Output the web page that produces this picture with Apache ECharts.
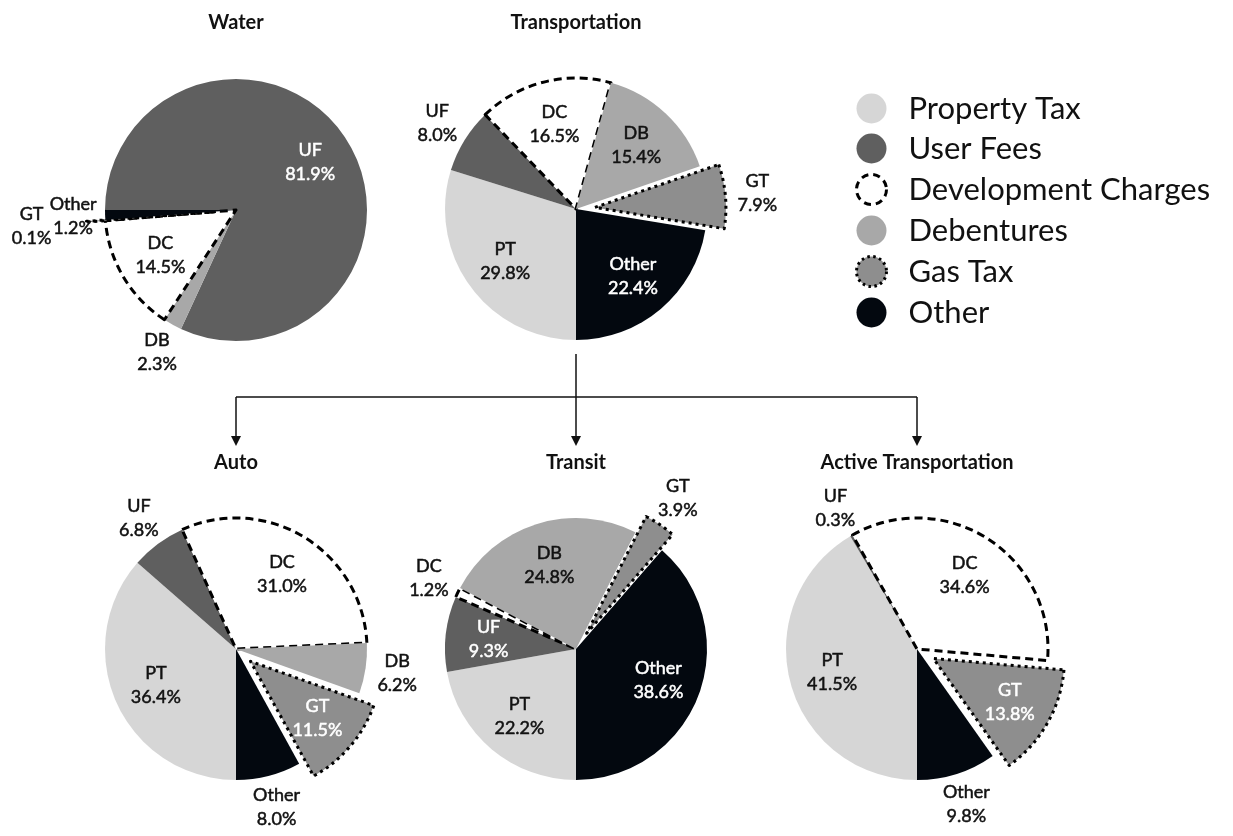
<!DOCTYPE html>
<html>
<head>
<meta charset="utf-8">
<title>Funding sources</title>
<script src="https://cdn.jsdelivr.net/npm/echarts@6/dist/echarts.min.js"></script>
<style>
  html, body { margin: 0; padding: 0; background: #fff; }
  #chart { width: 1233px; height: 836px; }
</style>
</head>
<body>
<div id="chart"></div>
<script>
// funding sources, legend order
const sourceNames = ['Property Tax', 'User Fees', 'Development Charges', 'Debentures', 'Gas Tax', 'Other'];
const sourceCodes = ['PT', 'UF', 'DC', 'DB', 'GT', 'Other'];

// shares (%) per pie, listed clockwise as drawn
const waterCodes = ['UF', 'DB', 'DC', 'GT', 'Other'];
const waterValues = [81.9, 2.3, 14.5, 0.1, 1.2];

const transportationCodes = ['PT', 'UF', 'DC', 'DB', 'GT', 'Other'];
const transportationValues = [29.8, 8.0, 16.5, 15.4, 7.9, 22.4];

const autoCodes = ['PT', 'UF', 'DC', 'DB', 'GT', 'Other'];
const autoValues = [36.4, 6.8, 31.0, 6.2, 11.5, 8.0];

const transitCodes = ['PT', 'UF', 'DC', 'DB', 'GT', 'Other'];
const transitValues = [22.2, 9.3, 1.2, 24.8, 3.9, 38.6];

const activeCodes = ['PT', 'UF', 'DC', 'GT', 'Other'];
const activeValues = [41.5, 0.3, 34.6, 13.8, 9.8];

const FONT = 'Lato, "Open Sans", sans-serif';
const R = 131;          // pie radius
const EXPLODE = 19;
// invisible pies used only to place labels: 'inside' label sits at radius/2 + 3
const LABEL_RADIUS = { in: 170, out: 320, far: 366 };

// layout of each pie; labels not listed sit inside the slice
const pies = [
  { title: 'Water', codes: waterCodes, values: waterValues, center: [236, 210], startAngle: 180, rings: { DB: 'out', GT: 'far', Other: 'out' } },
  { title: 'Transportation', codes: transportationCodes, values: transportationValues, center: [576, 209], startAngle: 270, rings: { UF: 'out', GT: 'out' } },
  { title: 'Auto', codes: autoCodes, values: autoValues, center: [236, 649], startAngle: 270, rings: { UF: 'out', DB: 'out', Other: 'out' } },
  { title: 'Transit', codes: transitCodes, values: transitValues, center: [576, 649], startAngle: 270, rings: { DC: 'out', GT: 'out' } },
  { title: 'Active Transportation', codes: activeCodes, values: activeValues, center: [917, 649], startAngle: 270, rings: { UF: 'out', Other: 'out' } }
];

const sliceStyle = {
  PT: { color: '#d6d6d6', borderWidth: 0 },
  UF: { color: '#5f5f5f', borderWidth: 0 },
  DC: { color: '#ffffff', borderColor: '#000', borderWidth: 3, borderType: [8, 5] },
  DB: { color: '#a8a8a8', borderWidth: 0 },
  GT: { color: '#8e8e8e', borderColor: '#000', borderWidth: 3, borderType: [3, 4] },
  Other: { color: '#03080f', borderWidth: 0 }
};
const whiteText = ['UF', 'GT', 'Other'];

const nameOf = code => sourceNames[sourceCodes.indexOf(code)];
const codeOf = name => sourceCodes[sourceNames.indexOf(name)];

const mainSeries = [];
const labelSeries = [];

pies.forEach(p => {
  const base = {
    type: 'pie',
    center: p.center,
    startAngle: p.startAngle,
    clockwise: true,
    selectedMode: 'multiple',
    selectedOffset: EXPLODE,
    silent: true,
    animation: false,
    avoidLabelOverlap: false,
    emphasis: { disabled: true },
    labelLine: { show: false }
  };

  mainSeries.push(Object.assign({}, base, {
    name: p.title,
    radius: [0, R],
    label: { show: false },
    data: p.codes.map((c, i) => ({
      name: nameOf(c),
      value: p.values[i],
      selected: c === 'GT',
      itemStyle: sliceStyle[c]
    }))
  }));

  Object.keys(LABEL_RADIUS).forEach(ring => {
    const ringOf = c => p.rings[c] || 'in';
    if (!p.codes.some(c => ringOf(c) === ring)) return;
    labelSeries.push(Object.assign({}, base, {
      name: p.title + ' ' + ring,
      radius: [0, LABEL_RADIUS[ring]],
      itemStyle: { color: 'rgba(0,0,0,0)', borderWidth: 0 },
      labelLayout: { hideOverlap: false },
      label: {
        position: 'inside',
        fontFamily: FONT,
        fontSize: 18,
        lineHeight: 24,
        align: 'center',
        formatter: q => codeOf(q.name) + '\n' + q.value.toFixed(1) + '%'
      },
      data: p.codes.map((c, i) => {
        const col = ring === 'in' && whiteText.indexOf(c) >= 0 ? '#fff' : '#111';
        return {
          name: nameOf(c),
          value: p.values[i],
          selected: c === 'GT',
          label: { show: ringOf(c) === ring, color: col, textBorderColor: col, textBorderWidth: 0.5 }
        };
      })
    }));
  });
});

// titles and connector arrows
const graphics = pies.map(p => ({
  type: 'text',
  x: p.center[0],
  y: p.center[1] < 400 ? 23 : 463,
  silent: true,
  style: {
    text: p.title,
    fill: '#111',
    font: 'bold 20px ' + FONT,
    align: 'center', verticalAlign: 'middle',
    textAlign: 'center', textVerticalAlign: 'middle'
  }
}));

const lineStyle = { stroke: '#111', lineWidth: 1.5 };
const barY = 397;
const topX = pies[1].center[0];
graphics.push({ type: 'line', silent: true, shape: { x1: topX, y1: 354, x2: topX, y2: barY }, style: lineStyle });
graphics.push({ type: 'line', silent: true, shape: { x1: pies[2].center[0], y1: barY, x2: pies[4].center[0], y2: barY }, style: lineStyle });
[pies[2], pies[3], pies[4]].forEach(p => {
  const x = p.center[0];
  graphics.push({ type: 'line', silent: true, shape: { x1: x, y1: barY, x2: x, y2: 437 }, style: lineStyle });
  graphics.push({ type: 'polygon', silent: true, shape: { points: [[x - 5, 436], [x + 5, 436], [x, 446]] }, style: { fill: '#111' } });
});

const legendIcon = {
  PT: { color: '#d6d6d6', borderWidth: 0 },
  UF: { color: '#5f5f5f', borderWidth: 0 },
  DC: { color: '#ffffff', borderColor: '#000', borderWidth: 3, borderType: [7, 5] },
  DB: { color: '#a8a8a8', borderWidth: 0 },
  GT: { color: '#8e8e8e', borderColor: '#000', borderWidth: 3, borderType: [2.5, 3.5] },
  Other: { color: '#03080f', borderWidth: 0 }
};

const chart = echarts.init(document.getElementById('chart'), null, { renderer: 'canvas' });
chart.setOption({
  backgroundColor: '#fff',
  animation: false,
  legend: {
    orient: 'vertical',
    left: 850,
    top: 88,
    itemWidth: 64,
    itemHeight: 30,
    itemGap: 9,
    icon: 'circle',
    selectedMode: false,
    textStyle: { fontFamily: FONT, fontSize: 31, color: '#111', lineHeight: 28 },
    data: sourceNames.map((n, i) => ({ name: n, itemStyle: legendIcon[sourceCodes[i]] }))
  },
  graphic: graphics,
  series: mainSeries.concat(labelSeries)
});
</script>
</body>
</html>
